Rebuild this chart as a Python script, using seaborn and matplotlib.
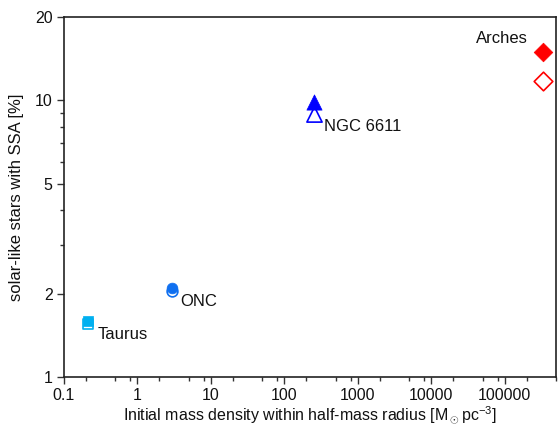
import matplotlib
matplotlib.use("Agg")
import matplotlib.pyplot as plt
import seaborn as sns
import pandas as pd
from matplotlib.ticker import FixedLocator, NullFormatter, FixedFormatter

sns.set_theme(style="white")
plt.rcParams['font.family'] = ['Liberation Sans', 'DejaVu Sans']
plt.rcParams['mathtext.fontset'] = 'custom'
plt.rcParams['mathtext.rm'] = 'Liberation Sans'

clusters = ["Taurus", "ONC", "NGC 6611", "Arches"]
density = [0.21, 3.0, 250, 330000]
ssa_filled = [1.60, 2.10, 9.9, 14.9]
ssa_open = [1.55, 2.05, 8.9, 11.8]
colors = ["#00B0F0", "#1070F0", "#0000FF", "#FF0000"]
markers = ["s", "o", "^", "D"]
sizes = [60, 60, 120, 90]

df = pd.DataFrame({"cluster": clusters, "density": density,
                   "filled": ssa_filled, "open": ssa_open})

fig = plt.figure(figsize=(5.6, 4.28), dpi=100)
ax = fig.add_axes([0.114, 0.119, 0.879, 0.841])

for i, row in df.iterrows():
    sns.scatterplot(x=[row["density"]], y=[row["open"]], ax=ax, marker=markers[i],
                    s=sizes[i], facecolor="white", edgecolor=colors[i], linewidth=1.2, zorder=3)
    sns.scatterplot(x=[row["density"]], y=[row["filled"]], ax=ax, marker=markers[i],
                    s=sizes[i], color=colors[i], edgecolor=colors[i], linewidth=0.5, zorder=4)

ax.set_xscale("log")
ax.set_yscale("log")
ax.set_xlim(0.1, 5e5)
ax.set_ylim(1, 20)

xt = [0.1, 1, 10, 100, 1000, 10000, 100000]
xl = ["0.1", "1", "10", "100", "1000", "10000", "100000"]
ax.xaxis.set_major_locator(FixedLocator(xt))
ax.xaxis.set_major_formatter(FixedFormatter(xl))
xminor = [m * 10.0 ** e for e in range(-1, 6) for m in (2, 5, 8)]
ax.xaxis.set_minor_locator(FixedLocator(xminor))
ax.xaxis.set_minor_formatter(NullFormatter())

yt = [1, 2, 5, 10, 20]
ax.yaxis.set_major_locator(FixedLocator(yt))
ax.yaxis.set_major_formatter(FixedFormatter([str(v) for v in yt]))
ax.yaxis.set_minor_locator(FixedLocator([3, 4, 6, 7, 8, 9]))
ax.yaxis.set_minor_formatter(NullFormatter())

ax.tick_params(axis="both", which="major", direction="out", length=5, width=1,
               color="#333333", labelsize=11.5, labelcolor="#111111", pad=3,
               bottom=True, left=True, top=False, right=False)
ax.tick_params(axis="both", which="minor", direction="out", length=3, width=1,
               color="#333333", bottom=True, left=True, top=False, right=False)
for sp in ax.spines.values():
    sp.set_color("#222222")
    sp.set_linewidth(1.2)

ax.set_xlabel(r"Initial mass density within half-mass radius [M$_\odot$pc$^{-3}$]",
              fontsize=11.5, color="#111111", labelpad=1)
ax.set_ylabel("solar-like stars with SSA [%]", fontsize=12, color="#111111", labelpad=8)

label_off = [(10, -10), (8, -11), (10, -12), (-15, 14)]
label_ha = ["left", "left", "left", "right"]
for i, c in enumerate(clusters):
    dx, dy = label_off[i]
    anchor_y = ssa_open[i] if i < 3 else ssa_filled[i]
    ax.annotate(c, (density[i], anchor_y), xytext=(dx, dy), textcoords="offset pixels",
                fontsize=12, color="#111111", va="center", ha=label_ha[i])

fig.savefig("out.png", dpi=100)
